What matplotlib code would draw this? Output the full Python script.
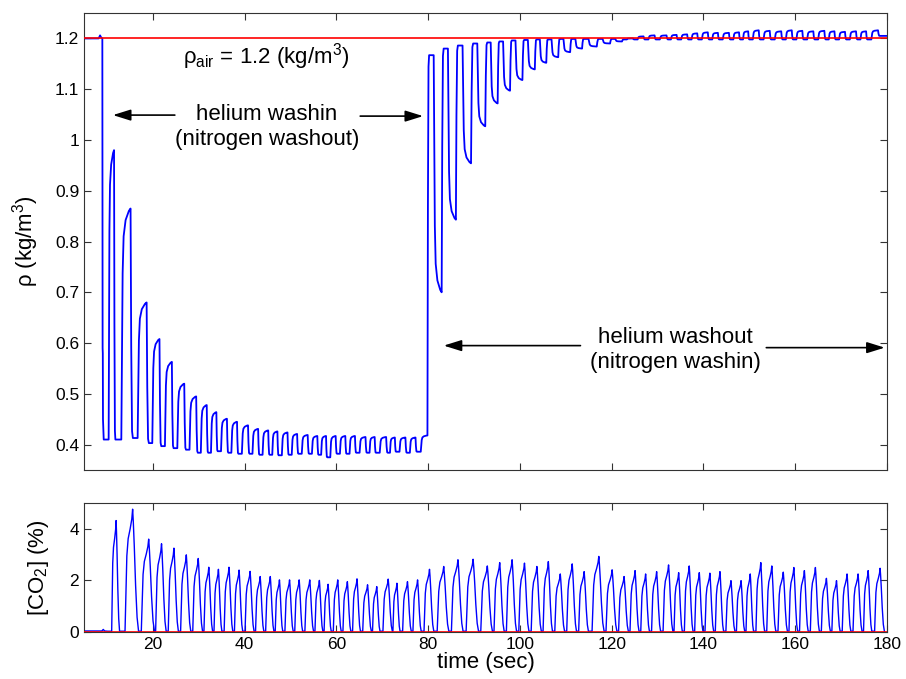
import numpy as np
import matplotlib
matplotlib.use("Agg")
import matplotlib.pyplot as plt

plt.rcParams['font.family'] = ['Liberation Sans', 'DejaVu Sans']
plt.rcParams['mathtext.fontset'] = 'custom'
plt.rcParams['mathtext.rm'] = 'Liberation Sans'
plt.rcParams['mathtext.it'] = 'Liberation Sans:italic'

# end of each expiration (time of the CO2 peak), sec
breath_end = [12.0, 15.6, 19.1, 21.9, 24.6, 27.3, 29.9, 32.2, 34.3, 36.6,
              38.8, 41.2, 43.4, 45.6, 47.6, 49.8, 51.9, 54.2, 56.3, 58.2,
              60.3, 62.4, 64.5, 66.8, 68.8, 71.3, 73.2, 75.5, 77.7, 80.3,
              83.4, 86.5, 89.8, 92.9, 95.6, 98.3, 101.0, 103.7, 106.2, 108.8,
              111.4, 114.0, 117.2, 120.1, 122.7, 125.1, 127.4, 129.8, 132.4, 134.6,
              136.9, 139.1, 141.4, 143.6, 146.0, 148.2, 150.2, 152.5, 154.9, 157.4,
              159.7, 162.0, 164.4, 166.8, 169.0, 171.3, 173.7, 175.9, 178.5]
first_onset = 9.9   # reference start for the first breath period

# peak CO2 of each breath, %
co2_peak = [4.32, 4.76, 3.60, 3.42, 3.25, 2.99, 2.85, 2.51, 2.43, 2.51,
            2.40, 2.35, 2.15, 2.15, 2.02, 2.02, 2.02, 2.02, 2.00, 1.85,
            2.02, 1.95, 2.06, 1.83, 1.76, 2.05, 1.89, 1.95, 2.02, 2.43,
            2.54, 2.80, 2.82, 2.56, 2.69, 2.80, 2.67, 2.54, 2.73, 2.25,
            2.64, 2.34, 2.93, 2.41, 2.15, 2.38, 2.25, 2.34, 2.60, 2.30,
            2.56, 2.30, 2.28, 2.34, 1.99, 1.99, 2.25, 2.69, 2.56, 2.32,
            2.50, 2.38, 2.50, 2.08, 1.99, 2.25, 2.25, 2.38, 2.47]

# end-expiratory density of each breath, kg/m3
rho_exp = [0.980, 0.865, 0.680, 0.608, 0.563, 0.520, 0.495, 0.478, 0.464, 0.451,
           0.445, 0.438, 0.431, 0.428, 0.426, 0.424, 0.421, 0.419, 0.417, 0.417,
           0.417, 0.417, 0.417, 0.415, 0.415, 0.415, 0.414, 0.414, 0.414, 0.418,
           0.700, 0.843, 0.954, 1.027, 1.072, 1.097, 1.118, 1.139, 1.152, 1.163,
           1.173, 1.180, 1.184, 1.190, 1.194, 1.200, 1.204, 1.206, 1.206, 1.207,
           1.208, 1.210, 1.212, 1.211, 1.211, 1.212, 1.214, 1.216, 1.215, 1.214,
           1.216, 1.215, 1.214, 1.215, 1.214, 1.213, 1.214, 1.214, 1.216]

# inspired density before each breath, kg/m3
rho_insp = [0.410, 0.410, 0.413, 0.403, 0.397, 0.393, 0.390, 0.384, 0.384, 0.387,
            0.384, 0.382, 0.382, 0.380, 0.380, 0.379, 0.380, 0.382, 0.382, 0.380,
            0.375, 0.382, 0.382, 0.384, 0.384, 0.384, 0.384, 0.386, 0.384, 0.386,
            1.167, 1.180, 1.186, 1.190, 1.192, 1.194, 1.196, 1.197, 1.198, 1.198,
            1.199, 1.199, 1.199, 1.199, 1.199, 1.198, 1.198, 1.198, 1.198, 1.198,
            1.198, 1.198, 1.198, 1.198, 1.198, 1.198, 1.198, 1.198, 1.198, 1.198,
            1.198, 1.198, 1.198, 1.198, 1.198, 1.198, 1.198, 1.198, 1.198]
rho_final = 1.205

# before the helium washin starts
pre_t = [5.0, 8.2, 8.5, 8.8, 9.0, 9.06, 9.1, 9.14, 9.3]
pre_rho = [1.2, 1.2, 1.206, 1.201, 1.2, 0.59, 0.58, 0.45, 0.41]
pre_co2_t = [5.0, 8.9, 9.2, 9.5, 10.2]
pre_co2 = [0.04, 0.04, 0.10, 0.04, 0.03]

rho_air = 1.2
co2_base = 0.03

n = len(breath_end)

# breath shape (fraction of period, fraction of the swing)
rho_shape_t = [-0.56, -0.52, -0.48, -0.42, -0.3, -0.1, 0.0, 0.04, 0.09, 0.14]
rho_shape_f = [0.0, 0.35, 0.72, 0.88, 0.95, 0.99, 1.0, 0.6, 0.97, 1.0]
co2_shape_t = [-0.46, -0.41, -0.35, -0.27, -0.15, -0.05, 0.0, 0.04, 0.1,
               0.18, 0.27, 0.36]
co2_shape_f = [0.0, 0.3, 0.62, 0.76, 0.84, 0.92, 1.0, 0.9, 0.7, 0.38, 0.12, 0.0]

prev_end = [first_onset] + breath_end[:-1]

# density trace
t_rho = list(pre_t)
v_rho = list(pre_rho)
for i in range(n):
    T = breath_end[i] - prev_end[i]
    L = rho_insp[i]
    E = rho_exp[i]
    Ln = rho_insp[i + 1] if i < n - 1 else rho_final
    tx = breath_end[i] - 0.45
    for k, (dt, f) in enumerate(zip(rho_shape_t, rho_shape_f)):
        t_rho.append(tx + dt * T)
        if k < 7:
            v_rho.append(L + f * (E - L))
        else:
            v_rho.append(E + f * (Ln - E))
t_rho.append(181)
v_rho.append(rho_final)

# CO2 trace
t_co2 = list(pre_co2_t)
v_co2 = list(pre_co2)
for i in range(n):
    T = breath_end[i] - prev_end[i]
    tp = breath_end[i]
    h = co2_peak[i]
    for dt, f in zip(co2_shape_t, co2_shape_f):
        t_co2.append(tp + dt * T)
        v_co2.append(max(co2_base, f * h))

fig = plt.figure(figsize=(9.06, 6.79), dpi=100)
ax1 = fig.add_axes([0.0927, 0.3078, 0.8863, 0.673])
ax2 = fig.add_axes([0.0927, 0.0692, 0.8863, 0.19])

ax1.plot(t_rho, v_rho, color='#0000ff', lw=1.3)
ax1.axhline(rho_air, color='#ff0000', lw=1.2, zorder=3)
ax1.set_xlim(5, 180)
ax1.set_ylim(0.35, 1.25)
ax1.set_xticks(range(20, 181, 20))
ax1.set_yticks([0.4, 0.5, 0.6, 0.7, 0.8, 0.9, 1.0, 1.1, 1.2])
ax1.set_yticklabels(['0.4', '0.5', '0.6', '0.7', '0.8', '0.9', '1', '1.1', '1.2'])
ax1.tick_params(labelbottom=False)
ax1.set_ylabel('ρ (kg/m$^3$)', fontsize=16)
ax1.yaxis.set_label_coords(-0.053, 0.5)

ax1.text(44.8, 1.151, 'ρ$_{\\mathrm{air}}$ = 1.2 (kg/m$^3$)', fontsize=16,
         ha='center', va='baseline')
ax1.text(44.9, 1.025, 'helium washin\n(nitrogen washout)', fontsize=16,
         ha='center', va='center', linespacing=1.25)
ax1.text(133.9, 0.586, 'helium washout\n(nitrogen washin)', fontsize=16,
         ha='center', va='center', linespacing=1.25)

arrow = dict(arrowstyle='-|>,head_length=0.8,head_width=0.25', color='k', lw=1.2,
             mutation_scale=13.5, shrinkA=0, shrinkB=0)
ax1.annotate('', xy=(11.3, 1.049), xytext=(24.8, 1.049), arrowprops=arrow)
ax1.annotate('', xy=(78.9, 1.047), xytext=(65.2, 1.047), arrowprops=arrow)
ax1.annotate('', xy=(83.4, 0.595), xytext=(113.2, 0.595), arrowprops=arrow)
ax1.annotate('', xy=(179.5, 0.591), xytext=(153.7, 0.591), arrowprops=arrow)

ax2.plot(t_co2, v_co2, color='#0000ff', lw=1.0)
ax2.axhline(0, color='#ff0000', lw=1.2, zorder=3)
ax2.set_xlim(5, 180)
ax2.set_ylim(0, 5)
ax2.set_xticks(range(20, 181, 20))
ax2.set_yticks([0, 2, 4])
ax2.set_ylabel('[CO$_2$] (%)', fontsize=16)
ax2.yaxis.set_label_coords(-0.041, 0.5)
ax2.set_xlabel('time (sec)', fontsize=16, labelpad=0)

for ax in (ax1, ax2):
    ax.tick_params(direction='in', top=True, right=True, length=5, width=0.8,
                   labelsize=12.5, color='0.2')
    for s in ax.spines.values():
        s.set_color('0.2')
        s.set_linewidth(0.8)

fig.savefig('out.png', dpi=100)
